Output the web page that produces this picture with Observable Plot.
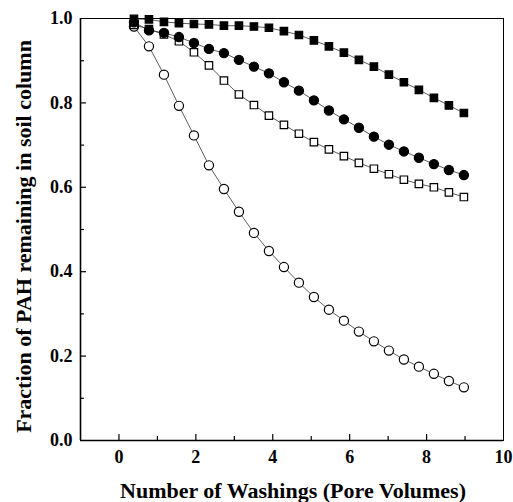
<!DOCTYPE html>
<html>
<head>
<meta charset="utf-8">
<script src="https://cdn.jsdelivr.net/npm/d3@7"></script>
<script src="https://cdn.jsdelivr.net/npm/@observablehq/plot@0.6"></script>
<style>
  html, body { margin: 0; padding: 0; background: #fff; }
</style>
</head>
<body>
<div id="chart"></div>
<script>
// Number of washings (pore volumes)
const washings = [0.39, 0.78, 1.17, 1.56, 1.95, 2.34, 2.73, 3.12, 3.51, 3.90, 4.29, 4.68,
                  5.07, 5.46, 5.85, 6.24, 6.63, 7.02, 7.41, 7.80, 8.19, 8.58, 8.97];
// Fraction of PAH remaining (four series)
const openCircles   = [0.981, 0.934, 0.867, 0.793, 0.723, 0.652, 0.596, 0.542, 0.492, 0.449, 0.411, 0.374,
                       0.340, 0.310, 0.284, 0.258, 0.235, 0.213, 0.192, 0.175, 0.158, 0.141, 0.126];
const openSquares   = [0.985, 0.975, 0.962, 0.946, 0.920, 0.889, 0.853, 0.820, 0.795, 0.770, 0.748, 0.727,
                       0.707, 0.690, 0.674, 0.658, 0.644, 0.631, 0.618, 0.608, 0.600, 0.588, 0.577];
const filledCircles = [0.991, 0.972, 0.966, 0.956, 0.942, 0.928, 0.918, 0.902, 0.886, 0.870, 0.849, 0.829,
                       0.806, 0.782, 0.761, 0.741, 0.720, 0.701, 0.685, 0.670, 0.655, 0.641, 0.629];
const filledSquares = [0.999, 0.998, 0.992, 0.989, 0.987, 0.986, 0.983, 0.983, 0.981, 0.978, 0.970, 0.961,
                       0.948, 0.934, 0.919, 0.902, 0.886, 0.867, 0.849, 0.831, 0.812, 0.794, 0.776];

const xMajor = [0, 2, 4, 6, 8, 10];
const xMinor = [1, 3, 5, 7, 9];
const yMajor = [0, 0.2, 0.4, 0.6, 0.8, 1.0];
const yMinor = [0.1, 0.3, 0.5, 0.7, 0.9];
const xTitle = "Number of Washings (Pore Volumes)";
const yTitle = "Fraction of PAH remaining in soil column";

const series = [
  {name: "openCircles", values: openCircles, symbol: "circle", fill: "white"},
  {name: "openSquares", values: openSquares, symbol: "square", fill: "white"},
  {name: "filledCircles", values: filledCircles, symbol: "circle", fill: "black"},
  {name: "filledSquares", values: filledSquares, symbol: "square", fill: "black"}
];
const rows = series.map(s => s.values.map((v, i) => ({series: s.name, x: washings[i], y: v})));

const font = "'Liberation Serif', 'Times New Roman', serif";

const marks = [
  Plot.frame({stroke: "black", strokeWidth: 1}),
  Plot.ruleX([-1], {stroke: "black", strokeWidth: 1.6}),
  Plot.ruleY([0], {stroke: "black", strokeWidth: 1.6}),
  // x axis: inward ticks + labels
  Plot.axisX(xMajor.slice(0, 5), {tickSize: -6, tickFormat: () => "", label: null, strokeWidth: 1.2}),
  Plot.axisX(xMinor, {tickSize: -4, tickFormat: () => "", label: null, strokeWidth: 1.2}),
  Plot.axisX(xMajor, {tickSize: 0, tickPadding: 10, tickFormat: d3.format("d"), label: null,
    fontSize: 18, fontWeight: "bold", fontFamily: font}),
  // y axis
  Plot.axisY(yMajor.slice(1, 5), {tickSize: -6, tickFormat: () => "", label: null, strokeWidth: 1.2}),
  Plot.axisY(yMinor, {tickSize: -4, tickFormat: () => "", label: null, strokeWidth: 1.2}),
  Plot.axisY(yMajor, {tickSize: 0, tickPadding: 8, tickFormat: d3.format(".1f"), label: null,
    fontSize: 18, fontWeight: "bold", fontFamily: font}),
  // axis titles
  Plot.text([xTitle], {frameAnchor: "bottom", dx: 1, dy: 50, textAnchor: "middle", lineAnchor: "middle", text: d => d,
    fontSize: 22, fontWeight: "bold", fontFamily: font, fill: "black"}),
  Plot.text([yTitle], {frameAnchor: "left", dx: -57, dy: 7, rotate: -90, textAnchor: "middle", lineAnchor: "middle", text: d => d,
    fontSize: 22, fontWeight: "bold", fontFamily: font, fill: "black"})
];

for (const r of rows) {
  marks.push(Plot.line(r, {x: "x", y: "y", stroke: "#333", strokeWidth: 0.8}));
}
rows.forEach((r, i) => {
  const s = series[i];
  marks.push(Plot.dot(r, {x: "x", y: "y", symbol: s.symbol, r: s.symbol === "square" ? 4.2 : 4.6,
    fill: s.fill, stroke: "black", strokeWidth: 1.2}));
});

const chart = Plot.plot({
  width: 513,
  height: 502,
  marginLeft: 80,
  marginRight: 10,
  marginTop: 18,
  marginBottom: 62,
  style: {fontFamily: font, fontSize: "18px", fontWeight: "bold", color: "black", background: "white"},
  x: {domain: [-1, 10]},
  y: {domain: [0, 1]},
  marks
});
document.getElementById("chart").appendChild(chart);
</script>
</body>
</html>
